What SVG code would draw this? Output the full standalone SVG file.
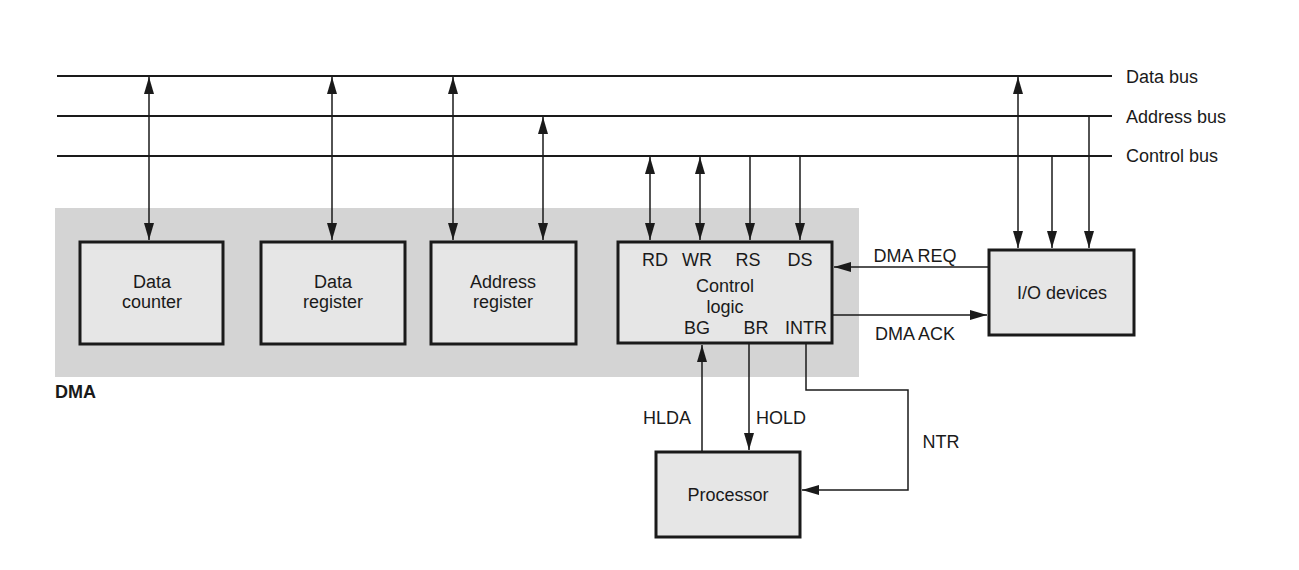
<svg xmlns="http://www.w3.org/2000/svg" width="1299" height="570" viewBox="0 0 1299 570">
<style>
text{font-family:"Liberation Sans",Arial,sans-serif;font-size:18px;fill:#1a1a1a}
.c{text-anchor:middle}
.bus{stroke:#1a1a1a;stroke-width:2;fill:none}
.w{stroke:#1a1a1a;stroke-width:1.5;fill:none}
.box{fill:#e6e6e6;stroke:#1a1a1a;stroke-width:3}
</style>
<defs>
<marker id="ah" viewBox="0 0 17 10" refX="17" refY="5" markerWidth="17" markerHeight="10" markerUnits="userSpaceOnUse" orient="auto-start-reverse">
<path d="M0,0 L17,5 L0,10 z" fill="#1a1a1a"/>
</marker>
</defs>
<rect id="dma-region" x="55" y="208" width="804" height="169" fill="#d4d4d4"/>
<text x="55" y="398" style="font-weight:bold;font-size:18px">DMA</text>
<g id="buses">
<line class="bus" x1="57" y1="76" x2="1112" y2="76"/>
<line class="bus" x1="57" y1="116" x2="1112" y2="116"/>
<line class="bus" x1="57" y1="156" x2="1112" y2="156"/>
<text x="1126" y="83">Data bus</text>
<text x="1126" y="123">Address bus</text>
<text x="1126" y="162">Control bus</text>
</g>
<g id="connectors">
<line class="w" x1="149" y1="77" x2="149" y2="240" marker-start="url(#ah)" marker-end="url(#ah)"/>
<line class="w" x1="332" y1="77" x2="332" y2="240" marker-start="url(#ah)" marker-end="url(#ah)"/>
<line class="w" x1="453" y1="77" x2="453" y2="240" marker-start="url(#ah)" marker-end="url(#ah)"/>
<line class="w" x1="543" y1="117" x2="543" y2="240" marker-start="url(#ah)" marker-end="url(#ah)"/>
<line class="w" x1="650" y1="157" x2="650" y2="240" marker-start="url(#ah)" marker-end="url(#ah)"/>
<line class="w" x1="700" y1="157" x2="700" y2="240" marker-start="url(#ah)" marker-end="url(#ah)"/>
<line class="w" x1="750" y1="156" x2="750" y2="240" marker-end="url(#ah)"/>
<line class="w" x1="800" y1="156" x2="800" y2="240" marker-end="url(#ah)"/>
<line class="w" x1="1018" y1="77" x2="1018" y2="248" marker-start="url(#ah)" marker-end="url(#ah)"/>
<line class="w" x1="1052" y1="156" x2="1052" y2="248" marker-end="url(#ah)"/>
<line class="w" x1="1089" y1="116" x2="1089" y2="248" marker-end="url(#ah)"/>
<line class="w" x1="988" y1="267" x2="834" y2="267" marker-end="url(#ah)"/>
<line class="w" x1="833" y1="315" x2="987" y2="315" marker-end="url(#ah)"/>
<line class="w" x1="702" y1="452" x2="702" y2="345" marker-end="url(#ah)"/>
<line class="w" x1="749" y1="344" x2="749" y2="450" marker-end="url(#ah)"/>
<polyline class="w" points="806,344 806,390 908,390 908,490 802,490" marker-end="url(#ah)"/>
<text class="c" x="915" y="262">DMA REQ</text>
<text class="c" x="915" y="340">DMA ACK</text>
<text class="c" x="667" y="424">HLDA</text>
<text class="c" x="781" y="424">HOLD</text>
<text class="c" x="941" y="448">NTR</text>
</g>
<g id="data-counter">
<rect class="box" x="80" y="242" width="143" height="102"/>
<text class="c" x="152" y="288">Data</text>
<text class="c" x="152" y="308">counter</text>
</g>
<g id="data-register">
<rect class="box" x="261" y="242" width="144" height="102"/>
<text class="c" x="333" y="288">Data</text>
<text class="c" x="333" y="308">register</text>
</g>
<g id="address-register">
<rect class="box" x="431" y="242" width="145" height="102"/>
<text class="c" x="503" y="288">Address</text>
<text class="c" x="503" y="308">register</text>
</g>
<g id="control-logic">
<rect class="box" x="618" y="242" width="214" height="101"/>
<text class="c" x="655" y="266">RD</text>
<text class="c" x="697" y="266">WR</text>
<text class="c" x="748" y="266">RS</text>
<text class="c" x="800" y="266">DS</text>
<text class="c" x="725" y="292">Control</text>
<text class="c" x="725" y="313">logic</text>
<text class="c" x="697" y="334">BG</text>
<text class="c" x="756" y="334">BR</text>
<text class="c" x="806" y="334">INTR</text>
</g>
<g id="io-devices">
<rect class="box" x="989" y="250" width="145" height="85"/>
<text class="c" x="1062" y="299">I/O devices</text>
</g>
<g id="processor">
<rect class="box" x="656" y="452" width="144" height="85"/>
<text class="c" x="728" y="501">Processor</text>
</g>
</svg>
